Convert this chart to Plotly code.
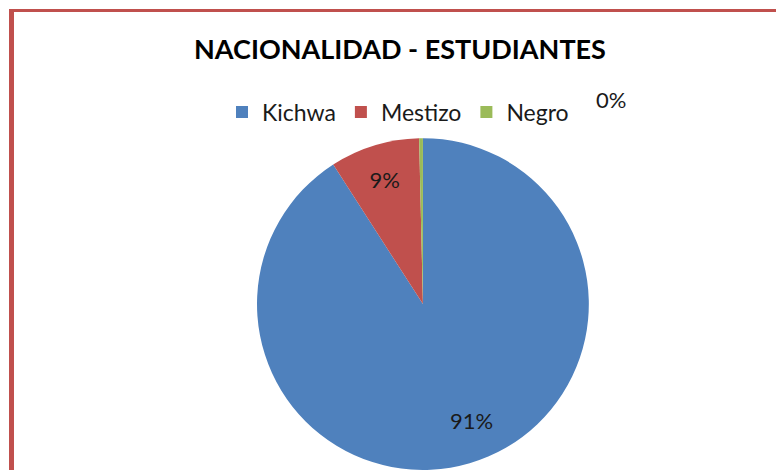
import plotly.graph_objects as go

categories = ["Kichwa", "Mestizo", "Negro"]
values = [250, 24, 1]
colors = ["#4F81BD", "#C0504D", "#9BBB59"]

W, H = 776, 470
total = sum(values)
pcts = [f"{round(v / total * 100)}%" for v in values]

fig = go.Figure(go.Pie(
    labels=categories,
    values=values,
    sort=False,
    direction="clockwise",
    rotation=0,
    marker=dict(colors=colors, line=dict(width=0)),
    text=pcts,
    textinfo="text",
    textposition=["none", "inside", "none"],
    insidetextfont=dict(family="Lato", size=22, color="#1a1a1a"),
    insidetextorientation="horizontal",
    domain=dict(x=[0.33, 0.76], y=[0.0, 0.706]),
    hoverinfo="label+percent",
))

# labels for the large and the tiny slice
fig.add_annotation(
    x=472 / W, y=1 - 420 / H, xref="paper", yref="paper",
    xanchor="center", yanchor="middle",
    text=pcts[0], showarrow=False,
    font=dict(family="Lato", size=22, color="#1a1a1a"),
)
fig.add_annotation(
    x=611 / W, y=1 - 100 / H, xref="paper", yref="paper",
    xanchor="center", yanchor="middle",
    text=pcts[2], showarrow=False,
    font=dict(family="Lato", size=22, color="#1a1a1a"),
)

# border frame (top and left edges visible)
fig.add_shape(type="line", xref="paper", yref="paper",
              x0=9 / W, x1=1.0, y0=1 - 10.5 / H, y1=1 - 10.5 / H,
              line=dict(color="#C0504D", width=3))
fig.add_shape(type="line", xref="paper", yref="paper",
              x0=11.5 / W, x1=11.5 / W, y0=0, y1=1 - 9 / H,
              line=dict(color="#C0504D", width=5))

fig.update_layout(
    width=W, height=H,
    margin=dict(l=0, r=0, t=0, b=0),
    paper_bgcolor="white",
    plot_bgcolor="white",
    title=dict(
        text="<b>NACIONALIDAD - ESTUDIANTES</b>",
        x=400 / W, xanchor="center",
        y=1 - 50 / H, yanchor="middle",
        font=dict(family="Lato", size=27, color="#000000"),
    ),
    showlegend=True,
    legend=dict(
        orientation="h",
        x=398 / W, xanchor="center",
        y=1 - 112 / H, yanchor="middle",
        font=dict(family="Lato", size=23, color="#1a1a1a"),
        itemwidth=30,
        traceorder="normal",
    ),
)

fig.write_html(
    "out.html",
    config={"displayModeBar": False},
    post_script="document.body.style.margin='0';document.body.style.overflow='hidden';",
)
